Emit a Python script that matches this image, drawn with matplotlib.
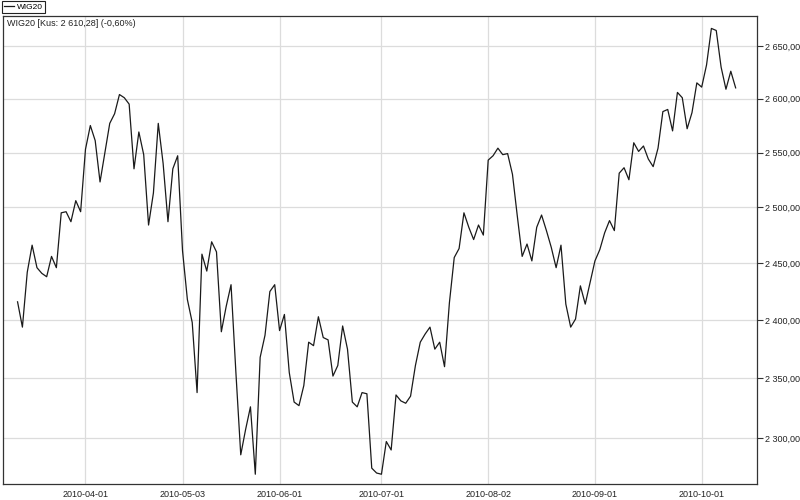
# -*- coding: utf-8 -*-

############################### Constants ######################################
SERIES_NAME = 'WIG20'
TITLE_TEXT = 'WIG20 [Kus: 2 610,28] (-0,60%)'
LINE_COLOR = '#1a1a1a'
GRID_COLOR = '#dcdcdc'
SPINE_COLOR = '#333333'
FONT = 'Liberation Sans'

############################### Libraries ######################################
import matplotlib
matplotlib.use('Agg')
import matplotlib.pyplot as plt
from matplotlib.ticker import FixedLocator, FuncFormatter, NullLocator

################################# Data #########################################
# daily closes, one value per session
values = [
    2416, 2394, 2442, 2466, 2446, 2441, 2438, 2456, 2446, 2495,
    2496, 2487, 2506, 2496, 2553, 2575, 2561, 2523, 2550, 2577,
    2586, 2604, 2601, 2595, 2535, 2569, 2548, 2484, 2513, 2577,
    2540, 2487, 2535, 2547, 2461, 2418, 2398, 2338, 2458, 2443,
    2469, 2460, 2390, 2412, 2431, 2355, 2286, 2307, 2326, 2270,
    2368, 2387, 2425, 2431, 2391, 2405, 2355, 2330, 2327, 2344,
    2381, 2378, 2403, 2385, 2383, 2352, 2361, 2395, 2375, 2330,
    2326, 2338, 2337, 2275, 2271, 2270, 2297, 2290, 2336, 2331,
    2329, 2335, 2361, 2381, 2388, 2394, 2375, 2381, 2360, 2415,
    2455, 2463, 2495, 2482, 2471, 2484, 2475, 2543, 2547, 2554,
    2548, 2549, 2530, 2492, 2456, 2467, 2452, 2482, 2493, 2479,
    2464, 2446, 2466, 2414, 2394, 2401, 2430, 2414, 2433, 2452,
    2462, 2477, 2488, 2479, 2531, 2536, 2525, 2559, 2551, 2556,
    2544, 2537, 2554, 2588, 2590, 2570, 2606, 2601, 2572, 2587,
    2615, 2611, 2632, 2667, 2665, 2630, 2609, 2626.04, 2610.28,
]

# session index of the first session of each month
tick_idx = [14, 34, 54, 75, 97, 119, 141]
tick_labels = ['2010-04-01', '2010-05-03', '2010-06-01', '2010-07-01',
               '2010-08-02', '2010-09-01', '2010-10-01']

y_ticks = [2300, 2350, 2400, 2450, 2500, 2550, 2600, 2650]

############################### Functions ######################################

# 2650 -> "2 650,00"
def pl_format(v, pos=None):
    return '{:,.2f}'.format(v).replace(',', ' ').replace('.', ',')

def build_graph():
    fig = plt.figure(figsize=(8, 5), dpi=100)
    ax = fig.add_axes([3 / 800, 16 / 500, 754 / 800, 468 / 500])

    x = list(range(len(values)))
    ax.plot(x, values, color=LINE_COLOR, lw=0.9, label=SERIES_NAME)

    ax.set_yscale('log')
    ax.set_ylim(2262, 2679)
    ax.set_xlim(-3.0, 152.4)

    ax.yaxis.set_major_locator(FixedLocator(y_ticks))
    ax.yaxis.set_major_formatter(FuncFormatter(pl_format))
    ax.yaxis.set_minor_locator(NullLocator())
    ax.yaxis.tick_right()
    ax.tick_params(axis='y', direction='out', length=4, width=0.8,
                   colors=SPINE_COLOR, labelcolor='#222222', labelsize=6.5, pad=2)

    ax.set_xticks(tick_idx)
    ax.set_xticklabels(tick_labels)
    ax.tick_params(axis='x', length=0, labelsize=6.5, labelcolor='#222222', pad=4)

    ax.grid(True, color=GRID_COLOR, lw=0.9)
    ax.set_axisbelow(True)
    for s in ax.spines.values():
        s.set_color(SPINE_COLOR)
        s.set_linewidth(0.9)

    for lbl in ax.get_xticklabels() + ax.get_yticklabels():
        lbl.set_family(FONT)

    # small legend box above the plot
    leg = ax.legend(loc='lower left', bbox_to_anchor=(2 / 800, 1 - 13 / 500),
                    bbox_transform=fig.transFigure, borderaxespad=0,
                    prop={'family': FONT, 'size': 6}, handlelength=1.2,
                    handletextpad=0.3, borderpad=0.25, fancybox=False,
                    framealpha=1, edgecolor='#222222')
    leg.get_frame().set_linewidth(0.8)

    fig.text(7 / 800, 1 - 24 / 500, TITLE_TEXT, family=FONT, fontsize=6.5,
             color='#222222', va='center', ha='left')

    fig.savefig('out.png', dpi=100)
    return

build_graph()
